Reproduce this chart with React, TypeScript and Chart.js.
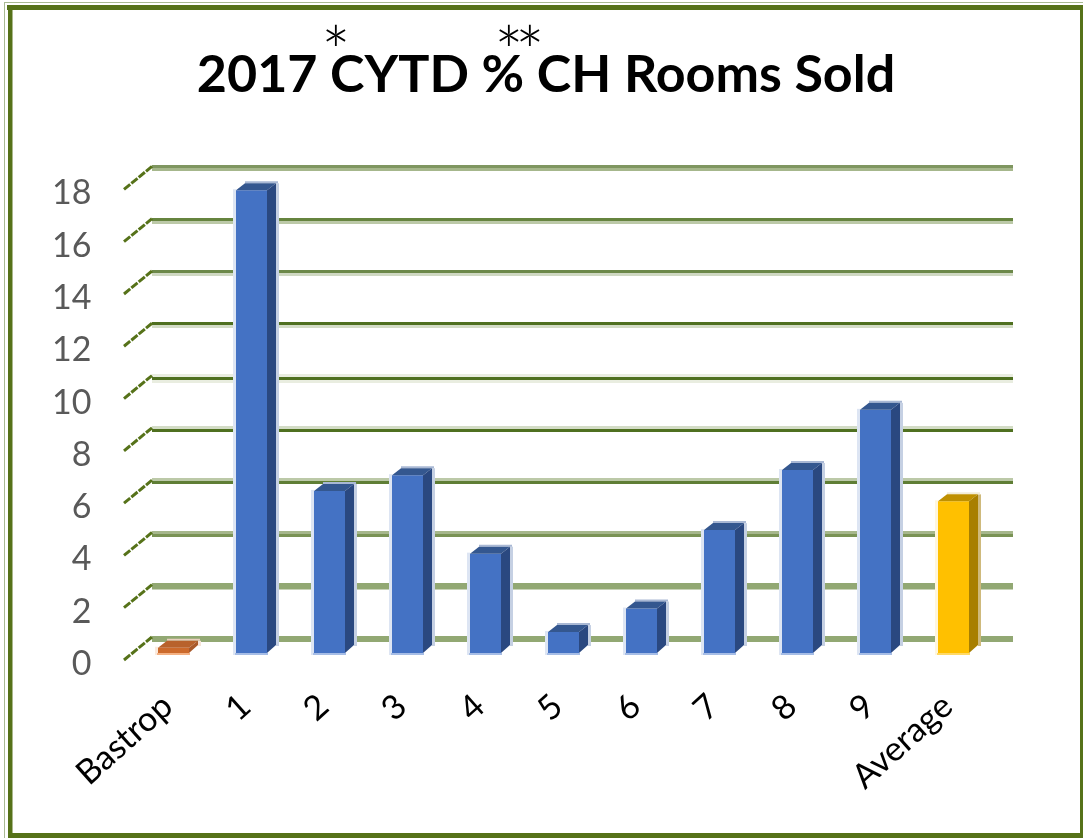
import React, { useEffect, useRef } from "react";
import { Chart, registerables } from "chart.js";

Chart.register(...registerables);

const categories = ["Bastrop", "1", "2", "3", "4", "5", "6", "7", "8", "9", "Average"];
const roomsSoldPct = [0.2, 17.7, 6.2, 6.8, 3.8, 0.8, 1.7, 4.7, 7.0, 9.3, 5.8];

const BLUE = { front: "#4472C4", side: "#2A4880", top: "#34578F", topEdge: "#A9B8D4", left: "#DDE5F3", bottom: "#A6BDE6", right: "#C5D0E3" };
const ORANGE = { front: "#CC6A2C", side: "#A9592A", top: "#B8622C", topEdge: "#EAD0BE", left: "#FBE9DC", bottom: "#F4B183", right: "#F6E4D8" };
const GOLD = { front: "#FFC000", side: "#A87F00", top: "#BF9000", topEdge: "#F2ECD8", left: "#FFF6DC", bottom: "#FFD966", right: "#CFBA7C" };
const palette = [ORANGE, BLUE, BLUE, BLUE, BLUE, BLUE, BLUE, BLUE, BLUE, BLUE, GOLD];

const GREEN = "#567219";
const DEPTH_X = 9;
const DEPTH_Y = 7;

// Each gridline is drawn as the blurred bands it has in the picture: [offset above bar plane, height, colour]
const gridBands: Record<number, [number, number, string][]> = {
  18: [[-17.5, 3, "#7F9660"], [-14.5, 3, "#A6B78C"]],
  16: [[-17, 3, "#66843F"], [-14, 3, "#BCC9A8"]],
  14: [[-17, 3, "#6C8849"], [-14, 3, "#CFD8C2"]],
  12: [[-17, 3, "#4F7020"], [-14, 3, "#D3DCC6"]],
  10: [[-18, 3, "#E9EDE0"], [-15, 3, "#4F7020"], [-12, 3, "#E9EDE0"]],
  8: [[-18, 3.5, "#D3DCC6"], [-14.5, 3, "#4F7020"]],
  6: [[-18, 3, "#BCC9A8"], [-15, 3, "#5F7E35"]],
  4: [[-17, 3, "#A6B78C"], [-14, 3, "#7A9355"]],
  2: [[-17.5, 6.5, "#92A873"]],
  0: [[-17, 6, "#92A873"]],
};

const framePlugin = {
  id: "frame",
  beforeDraw(chart: any) {
    const { ctx, width, height } = chart;
    ctx.save();
    ctx.strokeStyle = "#A9BA92";
    ctx.lineWidth = 1;
    ctx.strokeRect(4.5, 2.5, width - 5, height - 3);
    ctx.fillStyle = "#FFFFFF";
    ctx.fillRect(5, 3, width - 5, height - 3);
    ctx.fillStyle = GREEN;
    ctx.fillRect(7, 5, width - 7, 5);
    ctx.fillRect(8, 5, 4.5, height - 5);
    ctx.fillRect(width - 3, 5, 3, height - 5);
    ctx.fillRect(8, height - 5, width - 8, 5);
    ctx.restore();
  },
};

const wallPlugin = {
  id: "wall",
  beforeDatasetsDraw(chart: any) {
    const { ctx, scales } = chart;
    const y = scales.y;
    ctx.save();
    y.ticks.forEach((t: any) => {
      const py = y.getPixelForValue(t.value);
      (gridBands[t.value] || []).forEach(([off, h, color]) => {
        ctx.fillStyle = color;
        ctx.fillRect(152, Math.round(py + off), 861, h);
      });
      ctx.strokeStyle = GREEN;
      ctx.lineWidth = 3;
      ctx.setLineDash([8, 1.5]);
      ctx.beginPath();
      ctx.moveTo(124, py + 7);
      ctx.lineTo(152, py - 16);
      ctx.stroke();
      ctx.setLineDash([]);
    });
    ctx.restore();
  },
};

const poly = (ctx: any, pts: number[][], color: string) => {
  ctx.fillStyle = color;
  ctx.beginPath();
  pts.forEach(([x, y], i) => (i ? ctx.lineTo(x, y) : ctx.moveTo(x, y)));
  ctx.closePath();
  ctx.fill();
};

const prismPlugin = {
  id: "prism",
  afterDatasetsDraw(chart: any) {
    const { ctx } = chart;
    const meta = chart.getDatasetMeta(0);
    ctx.save();
    meta.data.forEach((bar: any, i: number) => {
      const c = palette[i];
      const l = bar.x - bar.width / 2;
      const r = bar.x + bar.width / 2;
      const t = bar.y;
      const b = bar.base;
      const dx = DEPTH_X;
      const dy = DEPTH_Y;
      // soft edges left by the picture's resampling
      ctx.fillStyle = c.left;
      ctx.fillRect(l - 3, t - 1, 3, b - t + 3);
      ctx.fillStyle = c.bottom;
      ctx.fillRect(l - 1, b, bar.width + 2, 2);
      ctx.fillStyle = c.right;
      ctx.fillRect(r + dx, t - dy, 3, b - t);
      poly(ctx, [[l + dx, t - dy - 2], [r + dx + 2, t - dy - 2], [r + dx + 2, t - dy], [l + dx, t - dy]], c.topEdge);
      // depth faces
      poly(ctx, [[l, t], [r, t], [r + dx, t - dy], [l + dx, t - dy]], c.top);
      poly(ctx, [[r, t], [r + dx, t - dy], [r + dx, b - dy - 1], [r, b]], c.side);
    });
    ctx.restore();
  },
};

const starsPlugin = {
  id: "stars",
  afterDraw(chart: any) {
    const { ctx } = chart;
    ctx.save();
    ctx.fillStyle = "#000000";
    ctx.font = "300 70px Lato";
    ctx.textAlign = "center";
    ctx.textBaseline = "alphabetic";
    ctx.fillText("*", 336, 78);
    ctx.fillText("*", 509, 78);
    ctx.fillText("*", 530, 78);
    ctx.restore();
  },
};

export default function App() {
  const ref = useRef<HTMLCanvasElement>(null);
  useEffect(() => {
    const chart = new Chart(ref.current as HTMLCanvasElement, {
      type: "bar",
      data: {
        labels: categories,
        datasets: [
          {
            label: "% CH Rooms Sold",
            data: roomsSoldPct,
            backgroundColor: palette.map((c) => c.front),
            borderWidth: 0,
            barPercentage: 31 / 78,
            categoryPercentage: 1,
          },
        ],
      },
      options: {
        responsive: false,
        animation: false,
        layout: { padding: { top: 0, left: 9, right: 0, bottom: 0 } },
        plugins: {
          legend: { display: false },
          tooltip: { enabled: false },
          title: {
            display: true,
            text: "2017 CYTD % CH Rooms Sold",
            color: "#000000",
            font: { family: "Lato", size: 52, weight: "bold", lineHeight: 1.2 },
            padding: { top: 44, bottom: 76 },
          },
        },
        scales: {
          x: {
            grid: { display: false, drawTicks: false },
            border: { display: false },
            afterFit: (s: any) => {
              s.height = 185;
            },
            ticks: {
              color: "#000000",
              font: { family: "Lato", size: 34 },
              minRotation: 42,
              maxRotation: 42,
              padding: 33,
              labelOffset: -6,
              autoSkip: false,
            },
          },
          y: {
            min: 0,
            max: 18,
            grid: { display: false, drawTicks: false },
            border: { display: false },
            afterFit: (s: any) => {
              s.width = 125.5;
            },
            ticks: {
              stepSize: 2,
              color: "#595959",
              font: { family: "Lato", size: 34 },
              padding: 43,
              labelOffset: 11,
            },
          },
          rightMargin: {
            position: "right",
            grid: { display: false, drawTicks: false },
            border: { display: false },
            ticks: { display: false },
            afterFit: (s: any) => {
              s.width = 90.5;
            },
          },
        },
      },
      plugins: [framePlugin, wallPlugin, prismPlugin, starsPlugin],
    } as any);
    return () => chart.destroy();
  }, []);
  return (
    <canvas
      ref={ref}
      width={1083}
      height={838}
      style={{ position: "absolute", left: 0, top: 0, display: "block", width: 1083, height: 838 }}
    />
  );
}
